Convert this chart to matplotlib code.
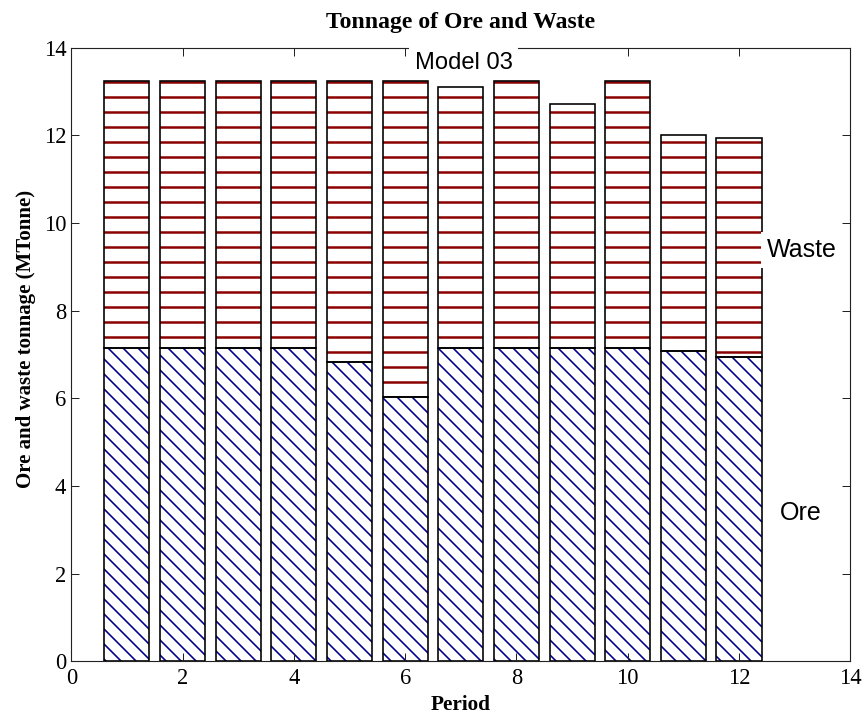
import matplotlib
matplotlib.use("Agg")
import matplotlib.pyplot as plt
import numpy as np

periods = [1, 2, 3, 4, 5, 6, 7, 8, 9, 10, 11, 12]
ore = [7.16, 7.16, 7.16, 7.16, 6.83, 6.04, 7.16, 7.16, 7.16, 7.16, 7.07, 6.94]
waste = [6.09, 6.09, 6.09, 6.09, 6.42, 7.21, 5.94, 6.09, 5.56, 6.09, 4.93, 4.99]
xticks = [0, 2, 4, 6, 8, 10, 12, 14]
yticks = [0, 2, 4, 6, 8, 10, 12, 14]

serif = ['Liberation Serif', 'DejaVu Serif']
sans = ['Liberation Sans', 'DejaVu Sans']

fig = plt.figure(figsize=(865 / 90, 720 / 90), dpi=90)
ax = fig.add_axes([0.0824, 0.0815, 0.983 - 0.0824, 0.9337 - 0.0815])

w = 0.81
ore_col = '#00008C'
waste_col = '#8B0000'
# hatch layers
with plt.rc_context({'hatch.linewidth': 1.3}):
    ax.bar(periods, ore, width=w, color='white', edgecolor=ore_col, linewidth=0,
           hatch='\\\\', zorder=1)
with plt.rc_context({'hatch.linewidth': 2.0}):
    ax.bar(periods, waste, width=w, bottom=ore, color='white', edgecolor=waste_col,
           linewidth=0, hatch='-', zorder=1)
# outlines
ax.bar(periods, ore, width=w, fill=False, edgecolor='black', linewidth=1.3, zorder=1.5)
ax.bar(periods, waste, width=w, bottom=ore, fill=False, edgecolor='black',
       linewidth=1.3, zorder=1.5)

ax.set_xlim(0, 14)
ax.set_ylim(0, 14)
ax.set_xticks(xticks)
ax.set_yticks(yticks)
ax.set_xticklabels([str(t) for t in xticks], family=serif, fontsize=18)
ax.set_yticklabels([str(t) for t in yticks], family=serif, fontsize=18)
ax.tick_params(direction='in', length=6.4, width=0.8, top=True, right=True,
               colors='#222222', labelcolor='black')
ax.tick_params(axis='x', pad=5)
ax.tick_params(axis='y', pad=4)
for s in ax.spines.values():
    s.set_linewidth(0.9)
    s.set_color('#222222')

ax.set_title('Tonnage of Ore and Waste', family=serif, fontweight='bold',
             fontsize=19, pad=16)
ax.set_xlabel('Period', family=serif, fontweight='bold', fontsize=17, labelpad=5)
ax.set_ylabel('Ore and waste tonnage (MTonne)', family=serif, fontweight='bold',
              fontsize=16.7)
ax.yaxis.set_label_coords(-0.045, 0.525)

bb = dict(boxstyle='square,pad=0.25', facecolor='white', edgecolor='none')
ax.text(7.05, 13.66, 'Model 03', family=sans, fontsize=19, ha='center',
        va='center', bbox=bb, zorder=5, clip_on=False)
ax.text(12.5, 9.39, 'Waste', family=sans, fontsize=20, ha='left',
        va='center', bbox=bb, zorder=5)
ax.text(12.73, 3.38, 'Ore', family=sans, fontsize=20, ha='left',
        va='center', bbox=bb, zorder=5)

fig.savefig('out.png', dpi=90, facecolor='white')
